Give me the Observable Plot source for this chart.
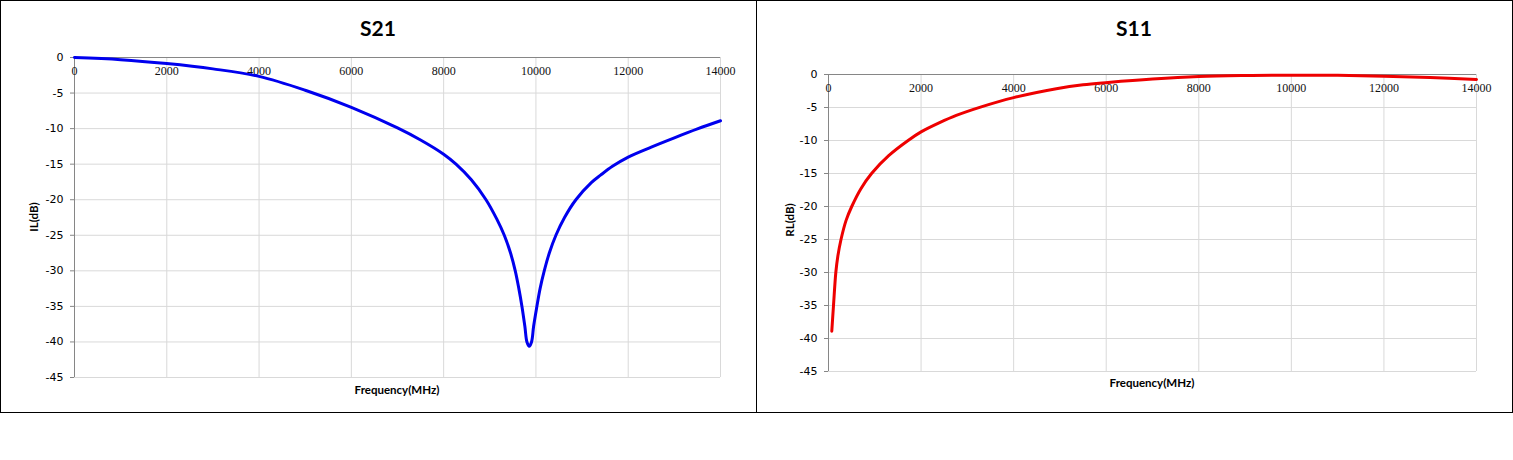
<!DOCTYPE html>
<html>
<head>
<meta charset="utf-8">
<script src="https://cdn.jsdelivr.net/npm/d3@7"></script>
<script src="https://cdn.jsdelivr.net/npm/@observablehq/plot@0.6"></script>
<style>
  html, body { margin: 0; padding: 0; background: #fff; }
  #root { position: relative; width: 1513px; height: 460px; background: #fff; overflow: hidden; }
  .panel { position: absolute; top: 0; }
  .frame { position: absolute; box-sizing: border-box; border: 1px solid #000; }
  .title { position: absolute; font-family: Lato, "Open Sans", sans-serif; font-weight: bold; font-size: 21px; color: #000; transform: translate(-50%, -50%); white-space: nowrap; }
  .xlabel { position: absolute; font-family: Lato, "Open Sans", sans-serif; font-weight: bold; font-size: 11.5px; color: #000; transform: translate(-50%, -50%); white-space: nowrap; }
  .ylabel { position: absolute; font-family: Lato, "Open Sans", sans-serif; font-weight: bold; font-size: 11.5px; color: #000; transform: translate(-50%, -50%) rotate(-90deg); white-space: nowrap; }
</style>
</head>
<body>
<div id="root"></div>
<script>
// ---- data ----
const xTicks = [0, 2000, 4000, 6000, 8000, 10000, 12000, 14000];
const yTicks = [0, -5, -10, -15, -20, -25, -30, -35, -40, -45];

const s21Freq = [0, 1000, 2000, 3000, 4000, 5000, 6000, 7000, 7500, 8000, 8268, 8600, 8918, 9150, 9314, 9450, 9552, 9630, 9697, 9760, 9805, 9855, 9905, 9950, 10013, 10090, 10180, 10290, 10433, 10620, 10866, 11200, 11400, 11658, 12000, 12500, 13000, 13500, 14000];
const s21Db   = [0, -0.3, -0.85, -1.6, -2.65, -4.6, -7.0, -9.9, -11.6, -13.6, -15, -17.2, -20, -22.7, -25, -27.5, -30, -32.5, -35, -37.8, -40, -40.6, -40, -37.8, -35.3, -32.5, -30, -27.5, -25, -22.5, -20, -17.6, -16.55, -15.3, -14.0, -12.6, -11.3, -10.05, -8.9];

const s11Freq = [71, 108, 158, 200, 270, 380, 502, 700, 930, 1300, 1720, 2000, 2400, 2760, 3300, 4000, 4922, 5500, 6040, 7000, 8000, 9000, 10000, 11000, 12000, 13000, 14000];
const s11Db   = [-38.9, -35.0, -30.0, -27.6, -25.0, -22.1, -20.0, -17.3, -15.0, -12.3, -10.0, -8.7, -7.3, -6.2, -4.9, -3.5, -2.15, -1.55, -1.2, -0.68, -0.3, -0.15, -0.1, -0.13, -0.25, -0.45, -0.75];

const s21 = s21Freq.map((f, i) => ({f, v: s21Db[i]}));
const s11 = s11Freq.map((f, i) => ({f, v: s11Db[i]}));

const gridColor = "#d9d9d9";
const axisColor = "#868686";

function makeChart(data, color, opts) {
  return Plot.plot({
    width: opts.width,
    height: opts.height,
    marginLeft: opts.ml,
    marginRight: opts.mr,
    marginTop: opts.mt,
    marginBottom: opts.mb,
    style: {background: "transparent", overflow: "visible"},
    x: {domain: [0, 14000]},
    y: {domain: [-45, 0]},
    marks: [
      Plot.ruleX(xTicks.filter(d => d !== 0), {stroke: gridColor, strokeWidth: 1, strokeOpacity: 1}),
      Plot.ruleY(yTicks.filter(d => d !== 0), {stroke: gridColor, strokeWidth: 1, strokeOpacity: 1}),
      Plot.ruleY([0], {stroke: axisColor, strokeWidth: 1}),
      Plot.ruleX([0], {stroke: axisColor, strokeWidth: 1}),
      Plot.axisY({
        ticks: yTicks, tickSize: 4, tickPadding: 7, stroke: axisColor,
        label: null, fontSize: 11, fontFamily: "DejaVu Sans", color: "#000",
        tickFormat: d => d === 0 ? "0" : String(d)
      }),
      Plot.axisX({ticks: [], label: null, tickSize: 0}),
      Plot.text(xTicks, {
        x: d => d, y: 0, dy: 14, text: d => String(d),
        fontFamily: "Liberation Serif", fontSize: 12, fill: "#111"
      }),
      Plot.line(data, {x: "f", y: "v", stroke: color, strokeWidth: 3, curve: "catmull-rom"})
    ]
  });
}

const root = document.getElementById("root");

function addPanel(left, chart, title, ylabel, xlabel) {
  const p = document.createElement("div");
  p.className = "panel";
  p.style.left = left + "px";
  p.appendChild(chart);
  root.appendChild(p);
  const add = (cls, text, x, y) => {
    const d = document.createElement("div");
    d.className = cls; d.textContent = text;
    d.style.left = x + "px"; d.style.top = y + "px";
    root.appendChild(d);
  };
  add("title", title.text, title.x, title.y);
  add("ylabel", ylabel.text, ylabel.x, ylabel.y);
  add("xlabel", xlabel.text, xlabel.x, xlabel.y);
}

const left = makeChart(s21, "#0000ee", {width: 756, height: 412, ml: 74, mr: 36, mt: 57, mb: 35});
addPanel(0, left, {text: "S21", x: 378, y: 27}, {text: "IL(dB)", x: 33, y: 217}, {text: "Frequency(MHz)", x: 397, y: 389});

const right = makeChart(s11, "#ee0000", {width: 756, height: 412, ml: 72, mr: 36, mt: 74, mb: 41});
addPanel(756, right, {text: "S11", x: 1134, y: 27}, {text: "RL(dB)", x: 789, y: 220}, {text: "Frequency(MHz)", x: 1152, y: 382});

// frames
const f1 = document.createElement("div");
f1.className = "frame";
f1.style.left = "0px"; f1.style.top = "0px"; f1.style.width = "757px"; f1.style.height = "413px";
root.appendChild(f1);
const f2 = document.createElement("div");
f2.className = "frame";
f2.style.left = "756px"; f2.style.top = "0px"; f2.style.width = "757px"; f2.style.height = "413px";
root.appendChild(f2);
</script>
</body>
</html>
